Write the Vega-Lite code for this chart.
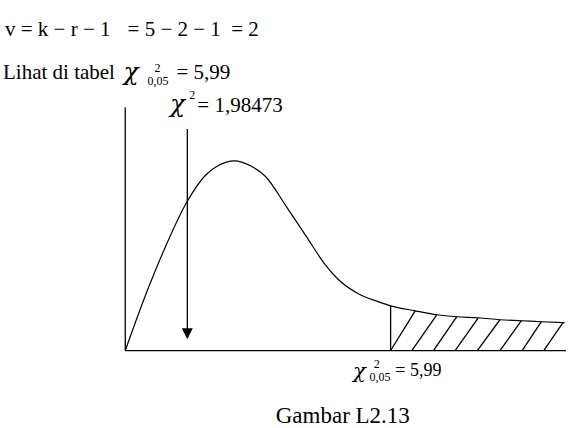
{
  "$schema": "https://vega.github.io/schema/vega-lite/v6.json",
  "width": 568,
  "height": 428,
  "padding": 0,
  "autosize": {"type": "fit", "contains": "padding"},
  "background": "white",
  "config": {"view": {"stroke": null}},
  "datasets": {
    "curve": [
      {"x": 0, "y": 0},
      {"x": 0.547, "y": 0.066},
      {"x": 0.922, "y": 0.106},
      {"x": 1.372, "y": 0.148},
      {"x": 1.822, "y": 0.177},
      {"x": 2.091, "y": 0.186},
      {"x": 2.459, "y": 0.191},
      {"x": 2.826, "y": 0.186},
      {"x": 3.172, "y": 0.175},
      {"x": 3.622, "y": 0.146},
      {"x": 4.071, "y": 0.116},
      {"x": 4.521, "y": 0.086},
      {"x": 4.821, "y": 0.071},
      {"x": 5.270, "y": 0.057},
      {"x": 5.720, "y": 0.049},
      {"x": 5.990, "y": 0.045},
      {"x": 6.546, "y": 0.040},
      {"x": 7.032, "y": 0.036},
      {"x": 7.481, "y": 0.034},
      {"x": 7.969, "y": 0.033},
      {"x": 8.458, "y": 0.031},
      {"x": 8.943, "y": 0.030},
      {"x": 9.393, "y": 0.029},
      {"x": 9.920, "y": 0.028}
    ],
    "segments": [
      {"part": "baseline", "x": 0, "y": 0, "x2": 9.949, "y2": 0},
      {"part": "axis", "x": 0, "y": 0, "x2": 0, "y2": 0.245},
      {"part": "critical", "x": 5.99, "y": 0, "x2": 5.99, "y2": 0.045},
      {"part": "arrow", "x": 1.401, "y": 0.223, "x2": 1.401, "y2": 0.021},
      {"part": "hatch", "x": 5.99, "y": 0, "x2": 6.546, "y2": 0.040},
      {"part": "hatch", "x": 6.469, "y": 0, "x2": 7.032, "y2": 0.036},
      {"part": "hatch", "x": 6.957, "y": 0, "x2": 7.481, "y2": 0.034},
      {"part": "hatch", "x": 7.445, "y": 0, "x2": 7.969, "y2": 0.033},
      {"part": "hatch", "x": 7.947, "y": 0, "x2": 8.458, "y2": 0.031},
      {"part": "hatch", "x": 8.458, "y": 0, "x2": 8.943, "y2": 0.030},
      {"part": "hatch", "x": 8.959, "y": 0, "x2": 9.393, "y2": 0.029},
      {"part": "hatch", "x": 9.447, "y": 0, "x2": 9.881, "y2": 0.028}
    ],
    "head": [{"x": 1.401, "y": 0.0168}],
    "bigText": [
      {"x": -2.715, "y": 0.317, "t": "v = k − r − 1"},
      {"x": 0.052, "y": 0.317, "t": "= 5 − 2 − 1"},
      {"x": 2.391, "y": 0.317, "t": "= 2"},
      {"x": -2.760, "y": 0.273, "t": "Lihat di tabel"},
      {"x": 1.154, "y": 0.273, "t": "= 5,99"},
      {"x": 1.626, "y": 0.240, "t": "= 1,98473"}
    ],
    "captionText": [
      {"x": 3.397, "y": -0.0727, "t": "Gambar L2.13"}
    ],
    "chiBig": [
      {"x": -0.040, "y": 0.272, "t": "χ"},
      {"x": 1.010, "y": 0.240, "t": "χ"}
    ],
    "chiMid": [
      {"x": 5.140, "y": -0.028, "t": "χ"}
    ],
    "smallText": [
      {"x": 0.659, "y": 0.2805, "t": "2"},
      {"x": 0.502, "y": 0.267, "t": "0,05"},
      {"x": 1.446, "y": 0.253, "t": "2"}
    ],
    "midText": [
      {"x": 6.096, "y": -0.026, "t": "= 5,99"}
    ],
    "tinyText": [
      {"x": 5.608, "y": -0.018, "t": "2"},
      {"x": 5.511, "y": -0.031, "t": "0,05"}
    ]
  },
  "encoding": {
    "x": {"field": "x", "type": "quantitative", "axis": null, "scale": {"domain": [-2.8275, 9.949], "nice": false, "zero": false}},
    "y": {"field": "y", "type": "quantitative", "axis": null, "scale": {"domain": [-0.075, 0.353], "nice": false, "zero": false}}
  },
  "layer": [
    {
      "data": {"name": "curve"},
      "mark": {"type": "line", "interpolate": "monotone", "color": "black", "strokeWidth": 1.2},
      "encoding": {"order": {"field": "x", "type": "quantitative"}}
    },
    {
      "data": {"name": "segments"},
      "mark": {"type": "rule", "color": "black", "strokeWidth": 1.3},
      "encoding": {
        "x2": {"field": "x2"},
        "y2": {"field": "y2"}
      }
    },
    {
      "data": {"name": "head"},
      "mark": {"type": "point", "shape": "M-1,-1L1,-1L0,1Z", "size": 121, "filled": true, "color": "black", "opacity": 1, "strokeWidth": 0}
    },
    {
      "data": {"name": "bigText"},
      "mark": {"type": "text", "font": "Liberation Serif", "fontSize": 21, "align": "left", "baseline": "alphabetic", "color": "black"},
      "encoding": {"text": {"field": "t"}}
    },
    {
      "data": {"name": "captionText"},
      "mark": {"type": "text", "font": "Liberation Serif", "fontSize": 23, "align": "left", "baseline": "alphabetic", "color": "black"},
      "encoding": {"text": {"field": "t"}}
    },
    {
      "data": {"name": "chiBig"},
      "mark": {"type": "text", "font": "DejaVu Serif", "fontStyle": "italic", "fontSize": 25, "align": "left", "baseline": "alphabetic", "color": "black"},
      "encoding": {"text": {"field": "t"}}
    },
    {
      "data": {"name": "chiMid"},
      "mark": {"type": "text", "font": "DejaVu Serif", "fontStyle": "italic", "fontSize": 21, "align": "left", "baseline": "alphabetic", "color": "black"},
      "encoding": {"text": {"field": "t"}}
    },
    {
      "data": {"name": "smallText"},
      "mark": {"type": "text", "font": "Liberation Serif", "fontSize": 12, "align": "left", "baseline": "alphabetic", "color": "black"},
      "encoding": {"text": {"field": "t"}}
    },
    {
      "data": {"name": "midText"},
      "mark": {"type": "text", "font": "Liberation Serif", "fontSize": 18, "align": "left", "baseline": "alphabetic", "color": "black"},
      "encoding": {"text": {"field": "t"}}
    },
    {
      "data": {"name": "tinyText"},
      "mark": {"type": "text", "font": "Liberation Serif", "fontSize": 12, "align": "left", "baseline": "alphabetic", "color": "black"},
      "encoding": {"text": {"field": "t"}}
    }
  ]
}
